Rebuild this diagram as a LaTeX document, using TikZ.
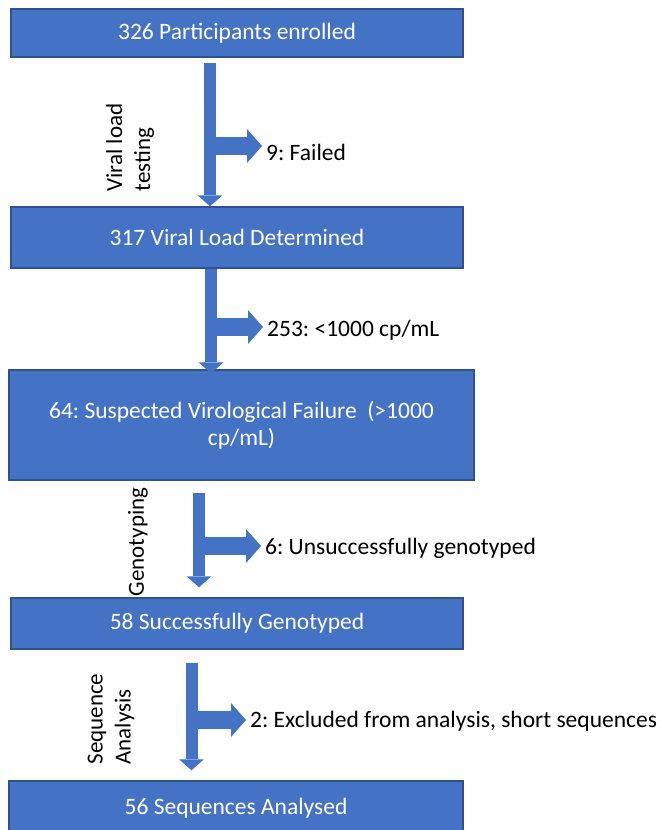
\documentclass[tikz,border=0pt]{standalone}
\usepackage{fontspec}
\setmainfont{Carlito}
\usepackage{tikz}
\usetikzlibrary{arrows.meta}
\frenchspacing
\definecolor{boxblue}{HTML}{4472C4}
\definecolor{boxedge}{HTML}{2F528F}
\tikzset{
    flow-box/.style = {draw=boxedge, fill=boxblue, line width=1.5pt, rectangle, text=white, font=\fontsize{23.5}{27}\selectfont, minimum width=452pt, align=center, inner sep=0pt},
    side-label/.style = {anchor=west, inner xsep=4pt, inner ysep=0pt, text height=16pt, text depth=5pt, font=\fontsize{23.5}{27}\selectfont},
    step-label/.style = {rotate=90, align=left, inner sep=0pt, font=\fontsize{23}{28}\selectfont},
    down-arrow/.style = {draw=boxblue, line width=12pt, -{Triangle[width=25pt, length=11pt, line width=0pt]}},
    side-arrow/.style = {draw=boxblue, line width=18pt, -{Triangle[width=34pt, length=15pt, line width=0pt]}},
}

\begin{document}
\begin{tikzpicture}[x=1pt, y=-1pt]
\useasboundingbox (0,0) rectangle (661,830);
% boxes
\node [flow-box, minimum height=48pt] (enrolled) at (237,33) {326 Participants enrolled};
\node [flow-box, minimum height=61pt] (vlDone) at (237,237.5) {317 Viral Load Determined};
\node [flow-box, minimum width=465pt, minimum height=110pt] (suspected) at (241.5,425) {64: Suspected Virological Failure\ \ (>1000\\cp/mL)};
\node [flow-box, minimum height=51pt] (genotyped) at (237,623.5) {58 Successfully Genotyped};
\node [flow-box, minimum width=454pt, minimum height=54pt] (analysed) at (236,808) {56 Sequences Analysed};

% step labels
\node [step-label] (vlTest) at (130,147.5) {Viral load\\testing};
\node [step-label] (genoStep) at (138,542) {Genotyping};
\node [step-label] (seqStep) at (111,719) {Sequence\\Analysis};

% excluded
\node [side-label] (failed) at (262,155) {9: Failed};
\node [side-label] (lowVL) at (263,331) {253: <1000 cp/mL};
\node [side-label] (noGeno) at (261,549) {6: Unsuccessfully genotyped};
\node [side-label] (shortSeq) at (246,722) {2: Excluded from analysis, short sequences};

% main flow
\draw [down-arrow] ([xshift=-27pt, yshift=-5pt]enrolled.south) -- ([xshift=-27pt]vlDone.north);
\draw [down-arrow] ([xshift=-26pt]vlDone.south) -- ([xshift=-30.5pt, yshift=-4pt]suspected.north);
\draw [down-arrow] ([xshift=-42.5pt, yshift=-12pt]suspected.south) -- ([xshift=-38pt, yshift=10pt]genotyped.north);
\draw [down-arrow] ([xshift=-45.5pt, yshift=-13pt]genotyped.south) -- ([xshift=-44.5pt, yshift=10pt]analysed.north);

% side branches
\coordinate (t1) at (210,146);
\coordinate (t2) at (211,327);
\coordinate (t3) at (199,546);
\coordinate (t4) at (191.5,720);
\draw [side-arrow] (t1) -- (t1 -| failed.west);
\draw [side-arrow] (t2) -- (t2 -| lowVL.west);
\draw [side-arrow] (t3) -- (t3 -| noGeno.west);
\draw [side-arrow] (t4) -- (t4 -| shortSeq.west);
\end{tikzpicture}
\end{document}
